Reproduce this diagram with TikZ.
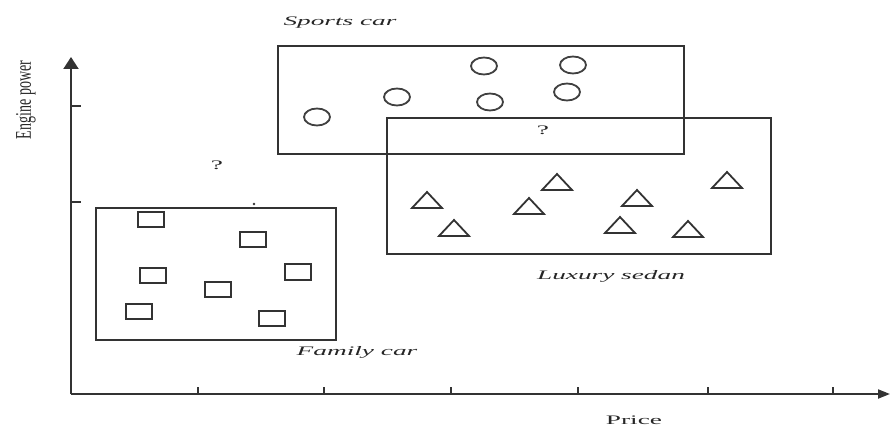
\documentclass[tikz,border=0pt]{standalone}
\usepackage{fontspec}
\setmainfont{Liberation Serif}
\usetikzlibrary{arrows.meta,shapes.geometric}
\begin{document}
\begin{tikzpicture}[x=1pt,y=-1pt,
  axis/.style={draw=black!80, line width=2pt},
  boxline/.style={draw=black!80, line width=2pt},
  circ/.style={ellipse, draw=black!75, line width=1.8pt, minimum width=26pt, minimum height=17pt, inner sep=0pt},
  sq/.style={rectangle, draw=black!80, line width=2pt, minimum width=26pt, minimum height=15pt, inner sep=0pt},
  tri/.style={draw=black!80, line width=1.8pt, line join=miter},
  lbl/.style={font=\fontsize{13}{13}\selectfont\itshape, text=black!85, xscale=2.1, inner sep=0pt},
  plain/.style={font=\fontsize{13}{13}\selectfont, text=black!85, xscale=2.1, inner sep=0pt}]
\useasboundingbox (0,0) rectangle (890,427);
% axes
\coordinate (O) at (71,394);
\coordinate (ytop) at (71,57);
\coordinate (xend) at (890,394);
\draw[axis, -{Triangle[length=12pt,width=15pt]}] (O) -- (ytop);
\draw[axis, -{Triangle[length=12pt,width=9pt]}] (O) -- (xend);
\foreach \yy in {106,202} \draw[axis] (71,\yy) -- (81,\yy);
\foreach \xx in {198,324,451,578,708,833} \draw[axis] (\xx,394) -- (\xx,387);
\node[font=\fontsize{14}{14}\selectfont, text=black!85, xscale=1.6, inner sep=0pt] (ylab) at (26,100) {\rotatebox{90}{Engine power}};
\node[plain] (xlab) at (634,420) {Price};
% boxes
\draw[boxline] (278,46) rectangle (684,154);
\draw[boxline] (387,118) rectangle (771,254);
\draw[boxline] (96,208) rectangle (336,340);
% labels
\node[lbl] (sports) at (340,23) {Sports car};
\node[lbl] (luxury) at (611,276) {Luxury sedan};
\node[lbl] (family) at (357,352) {Family car};
\node[plain] (q1) at (217,165) {?};
\node[plain] (q2) at (543,130) {?};
\fill[black!80] (254,204) circle (1.3pt);
% circles
\node[circ] (c1) at (317,117) {};
\node[circ] (c2) at (397,97) {};
\node[circ] (c3) at (484,66) {};
\node[circ] (c4) at (573,65) {};
\node[circ] (c5) at (490,102) {};
\node[circ] (c6) at (567,92) {};
% squares
\node[sq] (s1) at (151,219.5) {};
\node[sq] (s2) at (253,239.5) {};
\node[sq] (s3) at (152.5,275.5) {};
\node[sq] (s4) at (298,272) {};
\node[sq] (s5) at (217.5,289.5) {};
\node[sq] (s6) at (138.5,311.5) {};
\node[sq] (s7) at (272,318) {};
% triangles
\foreach \cx/\by in {427/208,454/236,529/214,557/190,620/233,637/206,688/237,727/188}
  \draw[tri] ({\cx-15},\by) -- (\cx,{\by-16}) -- ({\cx+15},\by) -- cycle;
\end{tikzpicture}
\end{document}
